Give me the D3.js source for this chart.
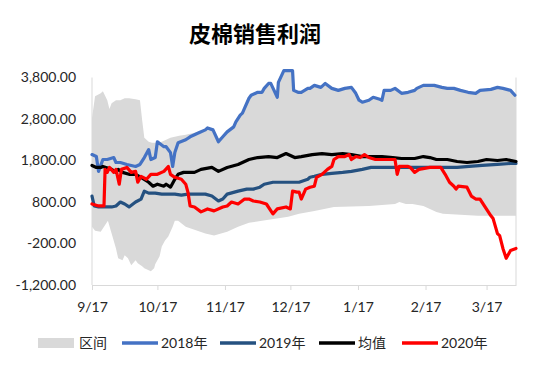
<!DOCTYPE html>
<html><head><meta charset="utf-8">
<script src="https://cdn.jsdelivr.net/npm/d3@7"></script>
<style>body{margin:0;background:#fff}</style>
</head><body>
<svg id="c" width="536" height="382"></svg>
<script>
// ---- data: [day offset from 9/17, value] ----
const startDate = new Date(2020, 8, 17);
const monthTicks = ["9/17","10/17","11/17","12/17","1/17","2/17","3/17"];
const yTicks = [-1200, -200, 800, 1800, 2800, 3800];
const legendNames = ["区间","2018年","2019年","均值","2020年"];

const bandUpper = [[0,2824],[1.4,3348],[4,3419],[5,3467],[7,3252],[8,3040],[9,3181],[11,3252],[13,3252],[15,3300],[17,3300],[20,3276],[22,3252],[23,2776],[24,2348],[26,2250],[27.5,2229],[29,2229],[32,2252],[34,2300],[36,2348],[38,2371],[40,2395],[43,2420],[47,2467],[49,2500],[52,2560],[53,2600],[55.5,2560],[58,2330],[60,2400],[62,2500],[65,2620],[66,2740],[68,2900],[69,2950],[70,3080],[72,3320],[73,3390],[76,3460],[78,3460],[79,3550],[81,3670],[82,3670],[85,3400],[85.5,3690],[88,3980],[92,3980],[92.5,3500],[94.5,3460],[96,3460],[99,3550],[100,3550],[102,3620],[105,3580],[107,3670],[110,3550],[113,3500],[116,3550],[119,3580],[121,3430],[122.5,3270],[124,3220],[127,3270],[129,3340],[132,3290],[133,3270],[134,3500],[137,3500],[139,3550],[142,3430],[145,3460],[148,3500],[149,3550],[152,3620],[157,3620],[160.5,3580],[163,3550],[166,3550],[169,3500],[172.5,3460],[176,3430],[178,3500],[183,3530],[186,3580],[188.5,3550],[192,3500],[194.5,3390]];
const bandLower = [[0,205],[1.4,110],[4,86],[5.5,205],[7.3,348],[9,38],[11,-319],[12,-557],[14,-605],[15,-486],[16.5,-557],[18,-724],[20,-605],[21,-676],[23,-748],[24,-795],[26,-843],[27,-867],[28.5,-795],[29,-700],[31,-510],[32,-271],[33.5,-129],[35,-33],[37,205],[38,348],[39.5,348],[43,205],[47,133],[52,38],[56,-10],[62,86],[67,205],[72,300],[78,348],[84,395],[90,443],[95,514],[102,586],[111,681],[127,705],[139,752],[141,800],[144,752],[147,752],[152,705],[155,633],[158,562],[161,514],[177,467],[194.5,467]];
const s2018 = [[0,1943],[2,1895],[3,1538],[5,1824],[7,1824],[10,1871],[11,1752],[13,1752],[16,1705],[20,1657],[22,1705],[24,1871],[26,2062],[27,1824],[29,1871],[30,2252],[33,2133],[34,2133],[36,1990],[37,1657],[38,1990],[39.5,2229],[43,2300],[45,2371],[47,2419],[49,2467],[52,2538],[53,2586],[55.5,2538],[58,2252],[60,2371],[62,2490],[65,2610],[66,2729],[68,2895],[69,2943],[70,3062],[72,3300],[73,3371],[76,3443],[78,3443],[79,3538],[81,3657],[82,3657],[85,3324],[85.5,3681],[88,3967],[92,3967],[92.5,3490],[94.5,3443],[96,3443],[99,3538],[100,3538],[102,3610],[105,3562],[107,3657],[110,3538],[113,3490],[116,3538],[119,3562],[121,3419],[122.5,3252],[124,3205],[127,3252],[129,3324],[132,3276],[133,3252],[134,3490],[137,3490],[139,3538],[142,3419],[145,3443],[148,3490],[149,3538],[152,3610],[157,3610],[160.5,3562],[163,3538],[166,3538],[169,3490],[172.5,3443],[176,3419],[178,3490],[183,3514],[186,3562],[188.5,3538],[192,3490],[194,3371]];
const s2019 = [[0,943],[1,705],[3,681],[6,681],[9,681],[11,705],[13,800],[15,752],[17,681],[20,800],[22.5,871],[24,1062],[26,1014],[29,1014],[32,990],[35,990],[38,990],[41,967],[44,990],[49,990],[52,990],[55,943],[58,824],[60,871],[62,990],[67,1062],[71,1110],[74,1110],[77,1157],[79,1229],[83,1276],[87,1276],[92,1276],[95,1276],[99,1348],[100,1395],[102,1419],[105.5,1467],[110,1490],[115,1514],[119,1538],[124,1586],[128,1633],[133,1633],[138,1633],[142,1633],[148,1633],[154,1633],[161,1633],[167.5,1633],[173,1657],[179,1681],[186,1705],[192,1729],[194.5,1729]];
const sMean = [[0,1681],[2,1633],[4,1633],[5,1657],[6.4,1633],[9,1586],[11,1514],[12,1586],[14,1514],[17,1467],[20,1467],[22.5,1395],[26,1276],[28,1181],[30,1229],[33,1181],[34,1229],[36,1157],[38,1348],[39.5,1467],[42,1514],[44,1514],[47,1514],[50,1586],[55,1633],[58,1538],[62,1633],[67,1705],[72,1824],[76,1871],[81,1895],[85,1871],[89,1967],[93,1871],[96,1895],[101,1943],[105.5,1967],[110,1943],[115,1967],[119,1943],[124,1895],[128,1895],[133,1895],[138,1871],[142,1848],[148,1848],[152,1895],[155,1871],[158,1824],[163,1824],[167.5,1776],[172,1752],[177,1776],[181,1824],[186,1800],[190,1824],[194.5,1776]];
const s2020 = [[0,752],[3,705],[5.5,705],[6,1586],[7,1514],[8,1633],[10,1514],[11,1586],[12.5,1229],[13.5,1586],[16,1633],[18,1514],[20,1538],[21,1276],[22.5,1419],[25,1348],[27,1467],[30,1467],[33,1538],[35,1657],[36,1467],[38,1395],[41,1348],[43,1229],[44,1038],[45,705],[47,681],[50,562],[53,633],[56,586],[60,681],[62,705],[64,800],[67,752],[70,871],[72,871],[74,824],[77,800],[80,752],[83,514],[85,633],[89,681],[91,633],[92,1062],[94,1038],[95,1038],[96,871],[98,1110],[100,1157],[102,1181],[103,1395],[105.5,1467],[108,1586],[110,1657],[111,1824],[113,1895],[116,1895],[118,1943],[119,1824],[121,1895],[123,1871],[125,1943],[127,1871],[130,1824],[134,1824],[139,1824],[140,1467],[141,1657],[145,1657],[146,1633],[148,1514],[150,1586],[155,1633],[160,1633],[162,1467],[164,1276],[166,1181],[167,1110],[168,1181],[172,1157],[174,943],[176,871],[178,871],[180,705],[183,467],[184,400],[186,38],[187,-10],[188.5,-319],[190,-557],[192,-367],[194.5,-319]];

const colors = {band:"#D9D9D9", s2018:"#4472C4", s2019:"#255180", mean:"#000000", s2020:"#FF0000"};

// ---- chart ----
const svg = d3.select("#c");
const toDate = d => new Date(startDate.getTime() + d * 864e5);
const x = d3.scaleTime().domain([startDate, toDate(194.5)]).range([92, 516]);
const y = d3.scaleLinear().domain([-1200, 3800]).range([285, 77.5]);
const font = "Lato, 'Noto Sans CJK SC', sans-serif";

svg.append("text").attr("x", 255).attr("y", 42).attr("text-anchor", "middle")
  .attr("font-family", "'Noto Sans CJK SC', sans-serif").attr("font-weight", "bold")
  .attr("font-size", 22).attr("fill", "#000").text("皮棉销售利润");

// band polygon from upper and lower outlines
const upperPts = bandUpper.map(d => [x(toDate(d[0])), y(d[1])]);
const lowerPts = bandLower.map(d => [x(toDate(d[0])), y(d[1])]).reverse();
svg.append("path").attr("d", "M" + upperPts.concat(lowerPts).join("L") + "Z")
  .attr("fill", colors.band);

// axes
const fmt = d3.format(",.2f");
svg.append("g").selectAll("text").data(yTicks).join("text")
  .attr("x", 76).attr("y", d => y(d)).attr("dy", "0.35em").attr("text-anchor", "end")
  .attr("font-family", font).attr("font-size", 14).attr("fill", "#262626")
  .text(d => fmt(d).replace("\u2212", "-"));
svg.append("line").attr("x1", 92).attr("x2", 92).attr("y1", 77.5).attr("y2", 285)
  .attr("stroke", "#D9D9D9").attr("stroke-width", 1);
svg.append("line").attr("x1", 516).attr("x2", 516).attr("y1", 77.5).attr("y2", 285)
  .attr("stroke", "#D9D9D9").attr("stroke-width", 1);

const tickDates = monthTicks.map((_, i) => d3.timeMonth.offset(startDate, i));
const xAxis = d3.axisBottom(x).tickValues(tickDates).tickFormat(d3.timeFormat("%-m/%-d"))
  .tickSizeInner(5).tickSizeOuter(0).tickPadding(12);
const gx = svg.append("g").attr("transform", "translate(0,285)").call(xAxis);
gx.select(".domain").attr("stroke", "#D9D9D9");
gx.selectAll(".tick line").attr("stroke", "#D9D9D9");
gx.selectAll(".tick text").attr("font-family", font).attr("font-size", 14).attr("fill", "#262626");

// lines
const line = d3.line().x(d => x(toDate(d[0]))).y(d => y(d[1]));
[[s2018, colors.s2018], [s2019, colors.s2019], [sMean, colors.mean], [s2020, colors.s2020]]
  .forEach(([data, c]) => {
    svg.append("path").attr("d", line(data)).attr("fill", "none").attr("stroke", c)
      .attr("stroke-width", 3.2).attr("stroke-linejoin", "round").attr("stroke-linecap", "round");
  });

// legend
const lg = svg.append("g").attr("font-family", font).attr("font-size", 14).attr("fill", "#262626");
lg.append("rect").attr("x", 38).attr("y", 338).attr("width", 36).attr("height", 10).attr("fill", colors.band);
lg.append("text").attr("x", 79).attr("y", 348).text(legendNames[0]);
const items = [[122, colors.s2018, legendNames[1]], [220, colors.s2019, legendNames[2]],
               [319, colors.mean, legendNames[3]], [402, colors.s2020, legendNames[4]]];
items.forEach(([lx, c, t]) => {
  lg.append("line").attr("x1", lx).attr("x2", lx + 36).attr("y1", 343).attr("y2", 343)
    .attr("stroke", c).attr("stroke-width", 3.5);
  lg.append("text").attr("x", lx + 39).attr("y", 348).text(t);
});
</script>
</body></html>
